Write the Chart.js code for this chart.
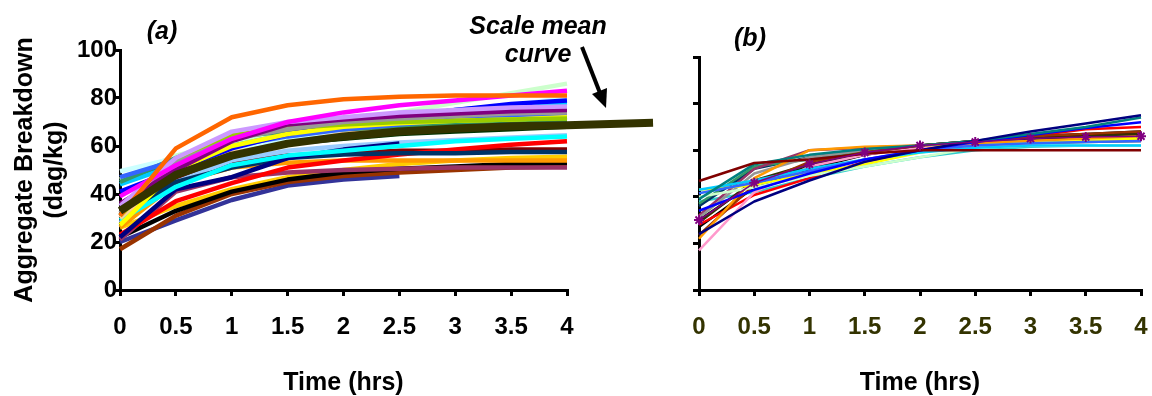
<!DOCTYPE html>
<html><head><meta charset="utf-8">
<script src="https://cdn.jsdelivr.net/npm/chart.js@4.4.1/dist/chart.umd.min.js"></script>
<style>
html,body{margin:0;padding:0;background:#fff;}
#wrap{position:relative;width:1152px;height:396px;overflow:hidden;font-family:'Liberation Sans',Arial,sans-serif;background:#fff;}
canvas{position:absolute;top:0;}
.lbl{position:absolute;font-weight:bold;font-style:italic;font-size:25px;line-height:28px;color:#000;white-space:nowrap;text-align:center;transform:translateX(-50%);}
svg{position:absolute;left:0;top:0;}
</style></head><body>
<div id="wrap">
<canvas id="ca" width="680" height="396" style="left:0;width:680px;height:396px"></canvas>
<canvas id="cb" width="472" height="396" style="left:680px;width:472px;height:396px"></canvas>
<div class="lbl" style="left:162px;top:16px">(a)</div>
<div class="lbl" style="left:750px;top:23px">(b)</div>
<div class="lbl" style="left:538px;top:11px">Scale mean<br>curve</div>
<svg width="1152" height="396">
  <line x1="582" y1="47" x2="600" y2="93" stroke="#000" stroke-width="4"/>
  <polygon points="606,108 607,88 592,94" fill="#000"/>
</svg>
</div>
<script>
// ---------- data ----------
const hours = [0, 0.5, 1, 1.5, 2, 2.5, 3, 3.5, 4];
const xRange = [0, 4];
const yRange = [0, 100];
const yStep = 20, xStep = 0.5;
const xTitle = 'Time (hrs)';
const yTitle = ['Aggregate Breakdown', '(dag/kg)'];

// panel (a): individual curves
const panelAValues = [
  [31, 59, 72, 77, 79.5, 80.5, 81, 81, 81],
  [39, 52, 63, 70, 74, 77, 79, 81, 83],
  [35, 55, 66, 70, 72, 74, 75, 76, 76.5],
  [36, 50, 62, 69, 71, 72.5, 73.5, 74.5, 75],
  [32, 53, 63, 67, 70, 71.5, 72.5, 73.5, 74],
  [31, 54, 64.5, 67.5, 69, 70, 70.5, 71, 71.5],
  [27, 50, 60, 65, 68, 69.5, 70.5, 71, 72],
  [41, 50, 59, 65, 69, 72, 75, 77.5, 79],
  [47, 54, 60, 64, 67, 69, 71, 72.5, 73],
  [45, 55, 64, 66, 67, 68, 69, 70, 70.5],
  [49.5, 55, 59, 63, 67, 71, 74, 77, 80],
  [44, 52, 60, 65, 69, 72, 75, 77, 78],
  [30, 50, 58, 63, 66, 67.5, 68.5, 69.5, 70],
  [46, 56, 62, 66, 70, 74, 78, 82, 86],
  [45, 53, 60, 64, 67, 69, 70, 71, 72],
  [29, 43, 52, 56, 58, 60, 62, 63, 64],
  [22, 42, 47, 55, 58.5, 61],
  [30, 45, 51, 55, 56.5, 57, 57, 57.5, 57.5],
  [23, 37, 44.5, 51, 54, 56.5, 58.5, 60.5, 62],
  [26, 44.5, 51, 53, 54, 54, 54, 54, 54],
  [21, 41, 47, 49, 50, 50.5, 51, 51, 51],
  [22, 33, 41, 46, 49, 50.5, 51.5, 52.5, 53],
  [17, 31, 40, 45, 47.5, 49, 50, 51, 51.5],
  [20, 29, 37.5, 43.5, 46, 47.5],
  [26, 35, 42, 47, 50, 52.5, 54, 55, 55.5],
  [31, 48, 57, 61, 63, 65, 66, 67, 68],
  [28, 45, 54, 58, 60, 61.5, 62.5, 63.5, 64.5],
  [32, 46, 53, 56, 57, 58, 58, 58.5, 58.5]
];
const panelAColors = ['#FF6600','#FF00FF','#CC99FF','#800080','#999999','#99CC00','#FFFF00','#0000FF',
  '#3366FF','#339966','#CCFFFF','#00CCFF','#FFCC99','#CCFFCC','#008080','#00FFFF','#000080','#003366',
  '#FF0000','#FF9900','#993366','#000000','#993300','#333399','#FFCC00','#003300','#99CCFF','#800000'];

// scale mean curve (extends past 4 h)
const meanHours = [0, 0.5, 1, 1.5, 2, 2.5, 3, 3.5, 4, 4.77];
const meanValues = [33, 48, 56, 61, 64, 66, 67.3, 68.2, 68.6, 69.7];

// panel (b)
const panelBValues = [
  [46.8, 54.5, 56, 58.5, 60, 60, 60, 60, 60],
  [24, 38, 47, 55, 60, 64, 68, 71.5, 75],
  [39, 54, 58, 60.5, 62, 64, 67, 70, 74],
  [34, 43, 50, 56, 60, 63.5, 66.5, 69.5, 72],
  [41.5, 46, 51, 56, 60, 62, 63, 63.5, 64],
  [43, 47, 52, 56, 59, 61, 62, 62, 62],
  [40, 44, 49, 53, 57, 61, 62, 62, 62],
  [43, 45, 50, 54, 59, 62, 63, 64, 65],
  [22, 48, 60, 61.5, 62, 63, 64, 65, 66],
  [23.6, 45, 55, 59, 62, 64, 66, 67, 68],
  [17, 42, 53, 58, 61, 63, 63.5, 64, 64.5],
  [28, 40.8, 48, 55, 60, 63, 66, 69, 70],
  [27, 44, 52, 58, 62, 64, 66, 67, 68],
  [29, 47, 54, 59, 62, 64, 65.5, 66.5, 67],
  [31, 50, 57, 60, 62, 63, 64, 64.5, 65],
  [32, 52, 60, 61, 62, 63, 63.5, 64, 64],
  [30, 46, 53, 58, 61.5, 63, 64.5, 65.5, 66],
  [37, 53, 56, 59, 61, 62.5, 63, 63.5, 64],
  [36, 52, 57, 60, 62, 63.5, 65, 66, 67],
  [38, 42, 48, 53, 57, 60, 61.5, 62, 62]
];
const panelBColors = ['#800000','#000080','#008080','#0000FF','#3366FF','#00CCFF','#CCFFCC','#FFFF00',
  '#FF9900','#993300','#FF99CC','#FF0000','#000000','#333300','#969696','#993366','#003300','#339966',
  '#003366','#33CCCC'];
const markerSeriesB = [30, 46, 54, 59, 62, 63.5, 65, 65.7, 66];

// ---------- build ----------
Chart.defaults.font.family = "'Liberation Sans', Arial, sans-serif";
const toXY = (xs, ys) => ys.map((v, i) => ({x: xs[i], y: v}));

function axisCommon(extra) {
  return Object.assign({
    type: 'linear',
    grid: {display: true, drawOnChartArea: false, drawTicks: true, tickLength: 6, color: '#000', lineWidth: 3},
    border: {display: true, color: '#000', width: 3}
  }, extra);
}

function build(canvasId, datasets, o) {
  return new Chart(document.getElementById(canvasId), {
    type: 'line',
    data: {datasets},
    options: {
      responsive: false, animation: false, events: [],
      layout: {padding: o.padding, autoPadding: false},
      plugins: {legend: {display: false}, tooltip: {enabled: false}},
      elements: {line: {tension: 0, borderCapStyle: 'butt', borderJoinStyle: 'round'}, point: {radius: 0}},
      scales: {
        x: axisCommon({
          // range set after data limits so that points past 4 h are still drawn
          afterDataLimits: s => { s.min = xRange[0]; s.max = xRange[1]; },
          ticks: {stepSize: xStep, padding: 17, color: o.xTickColor, autoSkip: false, maxRotation: 0,
                  font: {size: 24, weight: 'bold'}, callback: v => String(v)},
          title: {display: true, text: xTitle, color: '#000', font: {size: 25, weight: 'bold', lineHeight: 1}, padding: 0},
          afterFit: s => { s.height = 106; s.paddingLeft = 0; s.paddingRight = 0; }
        }),
        y: axisCommon({
          min: yRange[0], max: yRange[1],
          ticks: {stepSize: yStep, padding: -3, color: '#000', font: {size: 24, weight: 'bold'},
                  callback: o.showY ? (v => String(v)) : (() => '')},
          title: {display: o.showY, text: yTitle, color: '#000', font: {size: 25, weight: 'bold', lineHeight: 1.2}, padding: {top: 10, bottom: 0}},
          afterFit: s => { s.width = o.yWidth; s.paddingTop = 0; s.paddingBottom = 0; }
        })
      }
    }
  });
}

const dsA = panelAValues.map((vals, i) => ({
  data: toXY(hours, vals), borderColor: panelAColors[i], borderWidth: 4.5, order: i + 1, pointRadius: 0
}));
dsA.push({data: toXY(meanHours, meanValues), borderColor: '#333300', borderWidth: 8, order: -1, clip: false, pointRadius: 0});

build('ca', dsA, {padding: {left: 0, top: 50, right: 113, bottom: 0}, xTickColor: '#000', showY: true, yWidth: 120});

const dsB = panelBValues.map((vals, i) => ({
  data: toXY(hours, vals), borderColor: panelBColors[i], borderWidth: 2.5, order: i + 1, pointRadius: 0
}));
dsB.push({data: toXY(hours, markerSeriesB), borderColor: '#800080', borderWidth: 1.5, order: -1, clip: false,
  pointStyle: 'star', pointRadius: 5, pointBorderWidth: 2, pointBorderColor: '#800080', pointBackgroundColor: '#800080'});

build('cb', dsB, {padding: {left: 0, top: 57, right: 11, bottom: 0}, xTickColor: '#333300', showY: false, yWidth: 19});
</script>
</body></html>
